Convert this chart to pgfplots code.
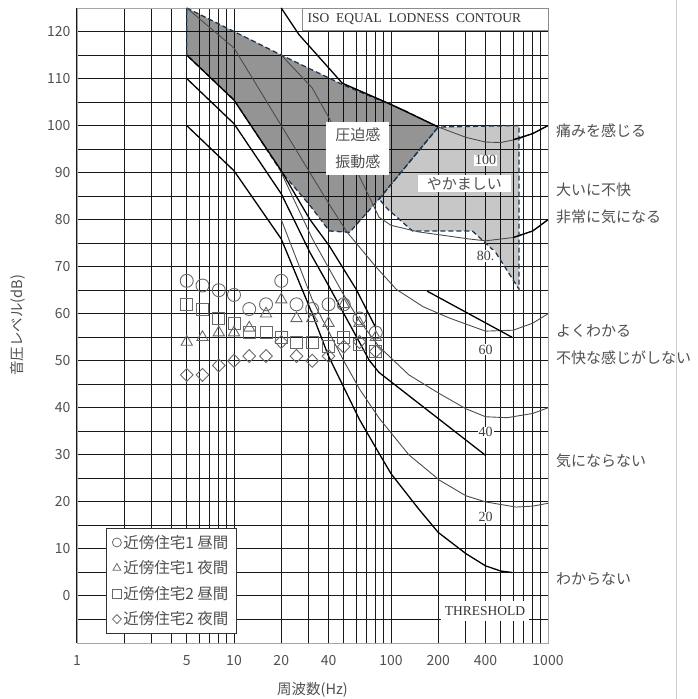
\documentclass[border=0pt]{standalone}
\usepackage{fontspec}
\setmainfont{Noto Sans CJK JP}
\newfontfamily\serif{Liberation Serif}
\usepackage{pgfplots}
\pgfplotsset{compat=1.18}

\definecolor{dashc}{RGB}{31,56,80}
\definecolor{txt}{RGB}{80,80,80}
\definecolor{mk}{RGB}{105,105,105}

\begin{document}
\begin{tikzpicture}
\begin{axis}[
  scale only axis, width=471pt, height=635pt,
  xmode=log, xmin=1, xmax=1000, ymin=-10, ymax=125,
  xtick={1,5,10,20,40,100,200,400,1000},
  xticklabels={1,5,10,20,40,100,200,400,1000},
  minor xtick={2,3,4,6,7,8,9,30,50,60,70,80,90,300,500,600,700,800,900},
  ytick={0,10,...,120},
  minor ytick={-5,5,...,115},
  grid=both,
  grid style={black!90, line width=1pt},
  major tick length=0pt, minor tick length=0pt,
  axis line style={black!35, line width=0.8pt},
  ticklabel style={font=\fontsize{14}{16}\selectfont, text=txt},
  xticklabel style={yshift=-9pt},
  yticklabel style={xshift=-3pt},
  /pgf/number format/assume math mode=true,
  xlabel={周波数(Hz)}, ylabel={音圧レベル(dB)},
  label style={font=\fontsize{14.5}{16}\selectfont, text=txt},
  xlabel style={at={(axis description cs:0.5,-0.074)}, anchor=center},
  ylabel style={at={(axis description cs:-0.125,0.5)}, anchor=center},
  clip=false,
  legend style={at={(axis cs:1.53,14.5)}, anchor=north west,
    draw=black!80, line width=0.8pt, fill=white,
    font=\fontsize{15.5}{18}\selectfont, text=txt,
    row sep=7pt, inner xsep=6pt, inner ysep=5pt},
  legend cell align=left,
  legend image post style={mark size=4.5pt, line width=0.8pt},
]
\coordinate (sw) at (rel axis cs:0,0);
\coordinate (ne) at (rel axis cs:1,1);

% shaded regions
\addplot[forget plot, fill=black, fill opacity=0.42, draw=dashc,
  line width=1.3pt, dash pattern=on 5pt off 3pt] coordinates {
  (5,125) (20,115) (50,108.6) (120,103.3) (200,99.7) (84,84.4)
  (54.5,77.3) (40.5,77.6) (30.5,83) (20,90.2) (10,105.5) (5,115)} -- cycle;
\addplot[forget plot, fill=black, fill opacity=0.22, draw=dashc,
  line width=1.3pt, dash pattern=on 5pt off 3pt] coordinates {
  (84,84.4) (200,99.7) (654,100) (654,65.2) (465,73) (330,77.6)
  (137,77.6) (95,82.3)} -- cycle;

% equal loudness contours
\addplot[forget plot, black!70, line width=0.9pt] coordinates {
  (49,109) (120,103.3) (200,99.7) (300,97.5) (400,96.5) (500,96.4)
  (654,97.2) (800,98.3) (1000,100)};
\addplot[forget plot, black!70, line width=0.9pt] coordinates {
  (20,115) (31.5,108) (50,96) (70,86) (84,80.5) (100,78.8) (150,77.4)
  (314,75.9) (400,75.5) (600,76.2) (800,77.6) (1000,80)};
\addplot[forget plot, black!70, line width=0.9pt] coordinates {
  (5,125) (10,116.5) (20,100) (40,83.5) (52.6,77.3) (80,70) (108,65.2)
  (160,61.5) (235,59.1) (300,57.8) (400,56.3) (600,56.5) (800,58) (1000,60)};
\addplot[forget plot, black!70, line width=0.9pt] coordinates {
  (20,90) (31.5,76) (50,64) (63,58.5) (84,53) (130,47) (204,43)
  (300,39.8) (400,38.1) (550,37.9) (800,38.8) (1000,40)};
\addplot[forget plot, black!70, line width=0.9pt] coordinates {
  (20,80) (31.5,63) (50,50) (63,44) (84,37.8) (130,30) (204,24.6)
  (300,21.3) (400,20) (625,18.9) (800,19.1) (1000,19.7)};

% evaluation lines
\addplot[forget plot, black, line width=1.3pt] coordinates {
  (20,125) (26,119.3) (49,109) (100,104.5) (200,99.7)};
\addplot[forget plot, black, line width=1.3pt] coordinates {
  (600,97) (800,98.3) (1000,100)};
\addplot[forget plot, black, line width=1.3pt] coordinates {
  (600,76.2) (800,77.6) (1000,80)};
\addplot[forget plot, black, line width=1.3pt] coordinates {
  (5,115) (10,105.4) (20,90.4) (30.5,80) (40.5,74.4) (60,65.2) (80,57)};
\addplot[forget plot, black, line width=1.3pt] coordinates {
  (170,64.8) (590,55)};
\addplot[forget plot, black, line width=1.3pt] coordinates {
  (5,110) (10,100.4) (20,85.5) (30.5,73) (40,66) (73,50) (84,47.5) (400,29.9)};
\addplot[forget plot, black, line width=1.3pt] coordinates {
  (5,100) (10,90.4) (20,75.9) (31.5,60) (40,51) (63,37.5) (84,30.3)
  (100,26) (150,18.5) (200,13.5) (300,9) (400,6.4) (500,5.3) (590,5)};

% measurements
\addplot[only marks, mark=o, mark size=6.5pt, mk, line width=0.9pt] coordinates {
  (5,67) (6.3,66) (8,65) (10,64) (12.5,61) (16,62) (20,67) (25,62)
  (31.5,61) (40,62) (50,62) (63,59) (80,56)};
\addlegendentry{近傍住宅1 昼間}
\addplot[only marks, mark=triangle, mark size=6.5pt, mk, line width=0.9pt] coordinates {
  (5,54) (6.3,55) (8,56) (10,56) (12.5,57) (16,60) (20,63) (25,59)
  (31.5,59) (40,58) (50,62) (63,58) (80,55)};
\addlegendentry{近傍住宅1 夜間}
\addplot[only marks, mark=square, mark size=6pt, mk, line width=0.9pt] coordinates {
  (5,62) (6.3,61) (8,59) (10,58) (12.5,56) (16,56) (20,55) (25,54)
  (31.5,54) (40,53) (50,55) (63,53.5) (80,52)};
\addlegendentry{近傍住宅2 昼間}
\addplot[only marks, mark=diamond, mark size=6.5pt, mark options={xscale=1.3}, mk, line width=0.9pt] coordinates {
  (5,47) (6.3,47) (8,49) (10,50) (12.5,51) (16,51) (20,54) (25,51)
  (31.5,50) (40,51) (50,53) (63,54) (80,52)};
\addlegendentry{近傍住宅2 夜間}

% annotations
\node[fill=white, inner sep=0pt, minimum width=63pt, minimum height=53pt,
  align=center, font=\fontsize{15}{18}\selectfont, text=txt]
  at (axis cs:61.5,95.1) {圧迫感\\[9pt]振動感};
\node[fill=white, inner sep=0pt, minimum width=93pt, minimum height=17pt,
  font=\fontsize{15}{18}\selectfont, text=txt] at (axis cs:293,87.6) {やかましい};
\node[fill=white, inner sep=1pt, font=\serif\fontsize{14}{16}\selectfont, text=black!75]
  at (axis cs:400,92.6) {100};
\node[fill=white, inner sep=1pt, font=\serif\fontsize{14}{16}\selectfont, text=black!75]
  at (axis cs:400,72.3) {80.};
\node[fill=white, inner sep=1pt, font=\serif\fontsize{14}{16}\selectfont, text=black!75]
  at (axis cs:400,52.4) {60};
\node[fill=white, inner sep=1pt, font=\serif\fontsize{14}{16}\selectfont, text=black!75]
  at (axis cs:400,34.8) {40};
\node[fill=white, inner sep=1pt, font=\serif\fontsize{14}{16}\selectfont, text=black!75]
  at (axis cs:400,16.7) {20};
\filldraw[fill=white, draw=black!45, line width=0.8pt]
  (axis cs:27.3,120.3) rectangle (axis cs:1000,125);
\node[anchor=west, inner sep=0pt, font=\serif\fontsize{13.5}{16}\selectfont, text=black!80]
  at (axis cs:29.4,122.7) {ISO\ \ EQUAL\ \ LODNESS\ \ CONTOUR};
\fill[white] (axis cs:208,-1.1) rectangle (axis cs:755,-5.3);
\node[inner sep=0pt, font=\serif\fontsize{13.5}{16}\selectfont, text=black!80]
  at (axis cs:397,-3.2) {THRESHOLD};

\node[anchor=west, inner sep=0pt, font=\fontsize{15}{18}\selectfont, text=txt]
  at (axis cs:1125,99) {痛みを感じる};
\node[anchor=west, inner sep=0pt, font=\fontsize{15}{18}\selectfont, text=txt]
  at (axis cs:1125,86.3) {大いに不快};
\node[anchor=west, inner sep=0pt, font=\fontsize{15}{18}\selectfont, text=txt]
  at (axis cs:1125,80.5) {非常に気になる};
\node[anchor=west, inner sep=0pt, font=\fontsize{15}{18}\selectfont, text=txt]
  at (axis cs:1125,56.3) {よくわかる};
\node[anchor=west, inner sep=0pt, font=\fontsize{15}{18}\selectfont, text=txt]
  at (axis cs:1125,50.6) {不快な感じがしない};
\node[anchor=west, inner sep=0pt, font=\fontsize{15}{18}\selectfont, text=txt]
  at (axis cs:1125,28.8) {気にならない};
\node[anchor=west, inner sep=0pt, font=\fontsize{15}{18}\selectfont, text=txt]
  at (axis cs:1125,3.6) {わからない};
\draw[black!20, line width=0.8pt] (axis cs:6620,127.1) -- (axis cs:6620,-21.8);
\end{axis}
\pgfresetboundingbox
\path[use as bounding box] ([shift={(-77pt,-56pt)}]sw) rectangle ([shift={(150pt,8pt)}]ne);
\end{tikzpicture}
\end{document}
